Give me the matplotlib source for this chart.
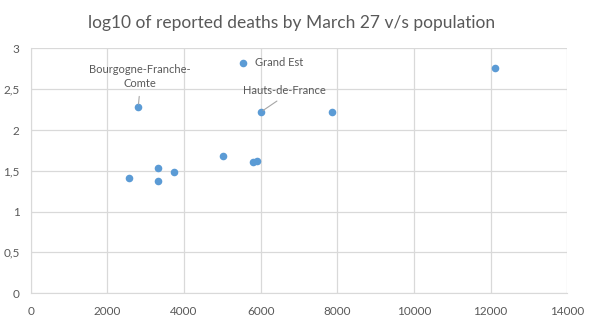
import matplotlib
matplotlib.use('Agg')
import matplotlib.pyplot as plt
from matplotlib.ticker import FuncFormatter

# population (thousands) and log10 of reported deaths by region
population = [2571, 3327, 3327, 3744, 5022, 5797, 5909, 6005, 7864, 2806, 5536, 12115]
log_deaths = [1.410, 1.533, 1.373, 1.484, 1.681, 1.607, 1.619, 2.221, 2.221, 2.283, 2.823, 2.762]
regions = ['', '', '', '', '', '', '', 'Hauts-de-France', '', 'Bourgogne-Franche-\nComte', 'Grand Est', '']

plt.rcParams['font.family'] = ['Lato', 'DejaVu Sans']

gris_texto = '#595959'
gris_grid = '#d9d9d9'
azul = '#5b9bd5'

fig = plt.figure(figsize=(5.9, 3.25), dpi=100)
ax = fig.add_axes([0.052, 0.098, 0.9095, 0.753])

ax.scatter(population, log_deaths, s=30, color=azul, zorder=3, linewidths=0)

# etiquetas de las regiones con su linea guia
for x, y, nombre in zip(population, log_deaths, regions):
    if nombre == 'Grand Est':
        ax.annotate(nombre, (x, y), xytext=(9, 0), textcoords='offset points',
                    ha='left', va='center', fontsize=8, color=gris_texto)
    elif nombre == 'Hauts-de-France':
        ax.annotate(nombre, (x, y), xytext=(17, 15.5), textcoords='offset points',
                    ha='center', va='center', fontsize=8, color=gris_texto,
                    arrowprops=dict(arrowstyle='-', color='#a6a6a6', lw=0.8,
                                    relpos=(0.5, 0), shrinkA=3, shrinkB=2))
    elif nombre:
        ax.annotate(nombre, (x, y), xytext=(1.2, 21.6), textcoords='offset points',
                    ha='center', va='center', fontsize=8, color=gris_texto,
                    linespacing=1.35,
                    arrowprops=dict(arrowstyle='-', color='#a6a6a6', lw=0.8,
                                    relpos=(0.5, 0), shrinkA=3, shrinkB=2))

ax.set_xlim(0, 14000)
ax.set_ylim(0, 3)
ax.set_xticks(range(0, 14001, 2000))
ax.set_yticks([0, 0.5, 1, 1.5, 2, 2.5, 3])
ax.yaxis.set_major_formatter(FuncFormatter(lambda v, p: ('%g' % v).replace('.', ',')))

ax.grid(True, color=gris_grid, linewidth=0.9)
ax.set_axisbelow(True)
for lado in ['top', 'right']:
    ax.spines[lado].set_visible(False)
ax.spines['left'].set_color(gris_grid)
ax.spines['bottom'].set_color(gris_grid)
ax.tick_params(length=0, colors=gris_texto, labelsize=8.5)
ax.tick_params(axis='x', pad=9)
ax.tick_params(axis='y', pad=8)

fig.text(0.495, 0.93, 'log10 of reported deaths by March 27 v/s population',
         ha='center', va='center', fontsize=12.5, color=gris_texto)

plt.savefig('out.png', dpi=100)
